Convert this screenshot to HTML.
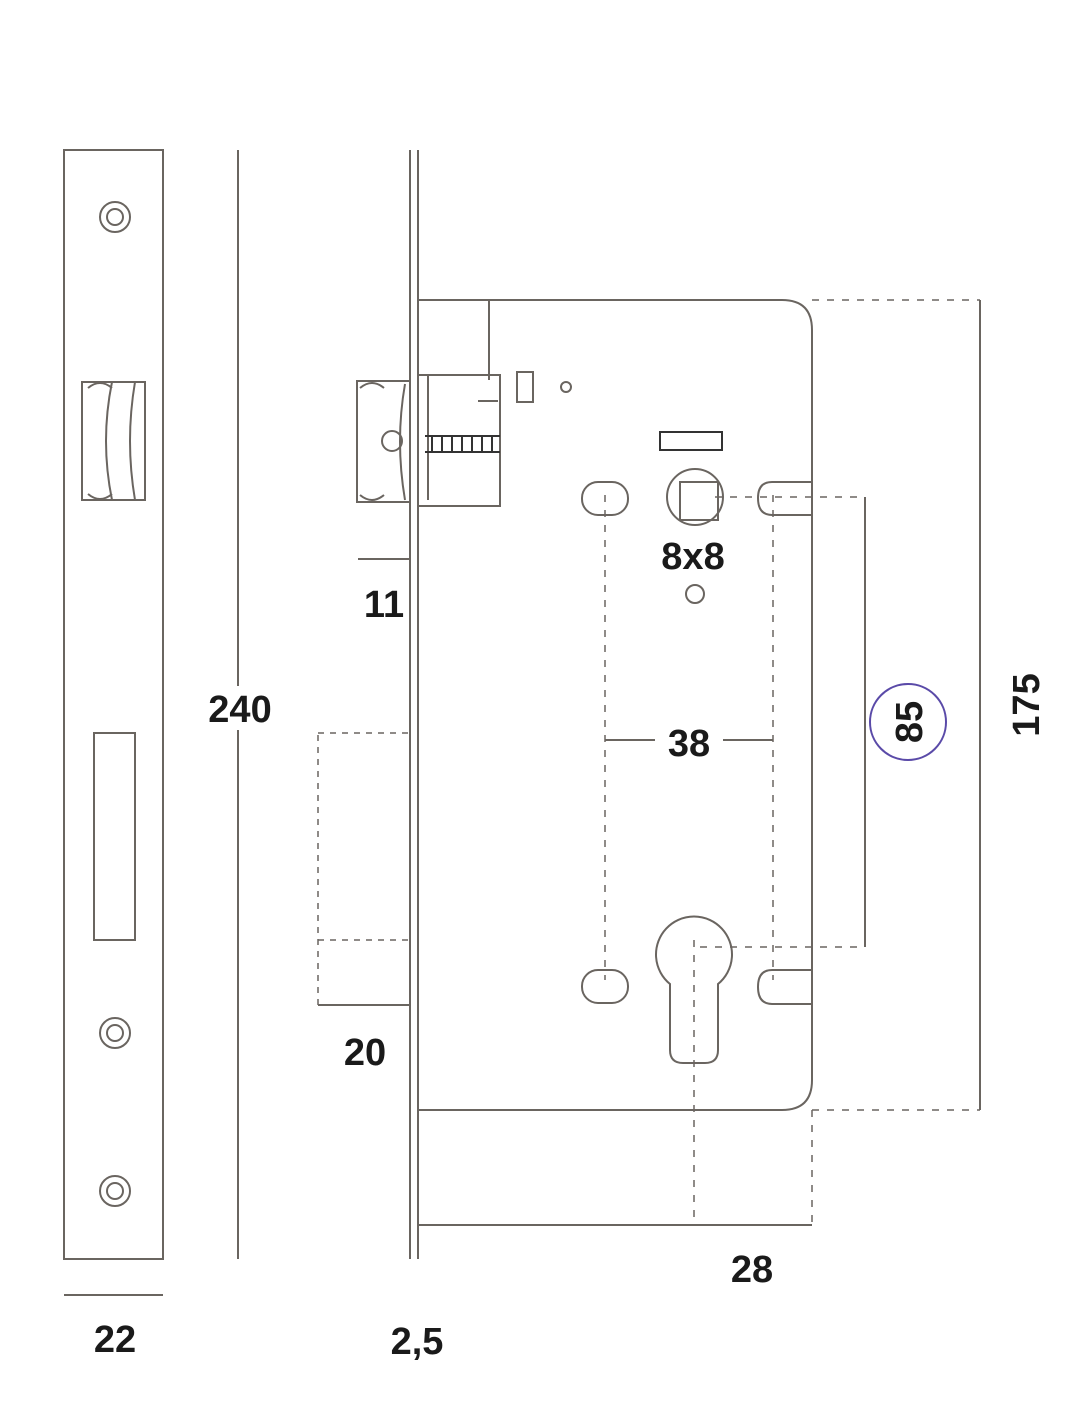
<!DOCTYPE html>
<html><head><meta charset="utf-8"><style>
html,body{margin:0;padding:0;background:#fff}
svg{display:block}
text{font-family:"Liberation Sans",sans-serif;fill:#1a1a1a;font-weight:bold}
</style></head><body>
<svg width="1080" height="1401" viewBox="0 0 1080 1401" xmlns="http://www.w3.org/2000/svg">
<g fill="none" stroke="#6a6560" stroke-width="2">
<rect x="64" y="150" width="99" height="1109"/>
<circle cx="115" cy="217" r="15"/><circle cx="115" cy="217" r="8"/>
<circle cx="115" cy="1033" r="15"/><circle cx="115" cy="1033" r="8"/>
<circle cx="115" cy="1191" r="15"/><circle cx="115" cy="1191" r="8"/>
<path d="M82 382 H145 V500 H82 Z"/>
<path d="M88 388 Q100 378 112 388 M88 494 Q100 504 112 494 M112 382 Q100 441 112 500"/>
<path d="M135 382 Q125 441 135 500"/>
<rect x="94" y="733" width="41" height="207"/>
<line x1="238" y1="150" x2="238" y2="1259"/>
<line x1="64" y1="1295" x2="163" y2="1295"/>
<line x1="410" y1="150" x2="410" y2="1259"/>
<line x1="418" y1="150" x2="418" y2="1259"/>
<path d="M418 300 H782 Q812 300 812 330 V1080 Q812 1110 782 1110 H418"/>
<line x1="489" y1="300" x2="489" y2="380"/>
<rect x="357" y="381" width="53" height="121"/>
<path d="M360 388 Q372 378 384 388 M360 495 Q372 505 384 495"/>
<path d="M405 384 Q395 441 405 500"/>
<circle cx="392" cy="441" r="10"/>
<rect x="418" y="375" width="82" height="131"/>
<line x1="428" y1="375" x2="428" y2="500"/>
<path d="M425 436 h75 M425 452 h75" stroke="#333"/>
<path d="M432 436 v16 M442 436 v16 M452 436 v16 M462 436 v16 M472 436 v16 M482 436 v16 M492 436 v16" stroke="#333"/>
<path d="M478 401 h20"/>
<rect x="517" y="372" width="16" height="30"/>
<circle cx="566" cy="387" r="5"/>
<rect x="660" y="432" width="62" height="18" stroke="#333"/>
<line x1="358" y1="559" x2="410" y2="559"/>
<rect x="318" y="733" width="92" height="272" stroke-dasharray="6 6" stroke-width="1.5"/>
<line x1="318" y1="940" x2="410" y2="940" stroke-dasharray="6 6" stroke-width="1.5"/>
<line x1="318" y1="1005" x2="410" y2="1005"/>
<circle cx="695" cy="497" r="28"/>
<rect x="680" y="482" width="38" height="38"/>
<circle cx="695" cy="594" r="9"/>
<rect x="582" y="482" width="46" height="33" rx="16"/>
<path d="M812 482 H772 Q758 482 758 498 Q758 515 772 515 H812"/>
<rect x="582" y="970" width="46" height="33" rx="16"/>
<path d="M812 970 H772 Q758 970 758 987 Q758 1004 772 1004 H812"/>
<path d="M670 984 A38 38 0 1 1 718 984 V1050 Q718 1063 705 1063 H683 Q670 1063 670 1050 Z"/>
<g stroke-dasharray="7 8" stroke-width="1.5">
<line x1="605" y1="495" x2="605" y2="980"/>
<line x1="773" y1="495" x2="773" y2="980"/>
<line x1="694" y1="940" x2="694" y2="1225"/>
<line x1="812" y1="1110" x2="812" y2="1225"/>
<polyline points="715,497 865,497"/>
<polyline points="700,947 865,947"/>
<line x1="812" y1="300" x2="980" y2="300"/>
<line x1="812" y1="1110" x2="980" y2="1110"/>
</g>
<line x1="865" y1="497" x2="865" y2="947"/>
<line x1="605" y1="740" x2="655" y2="740"/>
<line x1="723" y1="740" x2="773" y2="740"/>
<line x1="980" y1="300" x2="980" y2="1110"/>
<line x1="418" y1="1225" x2="812" y2="1225"/>
<circle cx="908" cy="722" r="38" stroke="#5a4aa8"/>
</g>
<rect x="202" y="686" width="76" height="44" fill="#fff"/>
<g font-size="38" text-anchor="middle">
<text x="240" y="722">240</text>
<text x="115" y="1352">22</text>
<text x="384" y="617">11</text>
<text x="365" y="1065">20</text>
<text x="417" y="1354">2,5</text>
<text x="693" y="569">8x8</text>
<text x="689" y="756">38</text>
<text x="752" y="1282">28</text>
<text transform="translate(922,722) rotate(-90)">85</text>
<text transform="translate(1039,705) rotate(-90)">175</text>
</g>
</svg>
</body></html>
